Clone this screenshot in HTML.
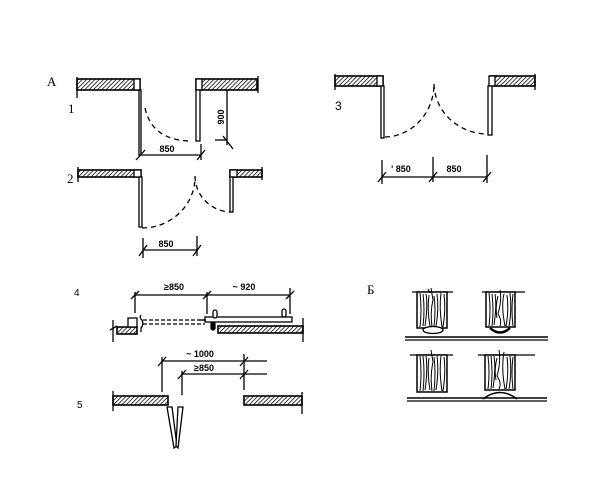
<!DOCTYPE html>
<html><head><meta charset="utf-8"><style>
html,body{margin:0;padding:0;background:#fff;}
svg{display:block;}
text{font-family:"Liberation Sans",sans-serif;fill:#000;}
.lb{font-family:"Liberation Serif",serif;}
</style></head><body>
<svg width="600" height="489" viewBox="0 0 600 489" xmlns="http://www.w3.org/2000/svg">
<defs>
<pattern id="h" patternUnits="userSpaceOnUse" width="3" height="3" patternTransform="rotate(45)">
<line x1="0" y1="0" x2="0" y2="3" stroke="#000" stroke-width="1.5"/>
</pattern>
</defs>
<g stroke="#000" stroke-width="1.3" fill="none">

<!-- ===== 1 ===== -->
<rect x="77" y="79" width="63" height="11" fill="url(#h)" stroke-width="1.6"/>
<rect x="134" y="79" width="6" height="11" fill="#fff"/>
<line x1="77" y1="77" x2="77" y2="98"/>
<rect x="139" y="90" width="2" height="65" fill="#fff"/>
<path d="M145 108 Q152 140 190 141" stroke-dasharray="5 4"/>
<rect x="196" y="79" width="61" height="11" fill="url(#h)" stroke-width="1.6"/>
<rect x="196" y="79" width="6" height="11" fill="#fff"/>
<line x1="258" y1="76" x2="258" y2="93"/>
<rect x="196" y="90" width="4" height="51" fill="#fff"/>
<line x1="227" y1="90" x2="227" y2="145"/>
<line x1="215" y1="140" x2="227" y2="140"/>
<line x1="223" y1="136" x2="233" y2="149"/>
<line x1="140" y1="155" x2="201" y2="155"/>
<line x1="201" y1="144" x2="201" y2="160"/>
<line x1="136" y1="160" x2="145" y2="150"/>
<line x1="197" y1="160" x2="205" y2="150"/>

<!-- ===== 2 ===== -->
<rect x="78" y="170" width="63" height="7" fill="url(#h)" stroke-width="1.6"/>
<rect x="134" y="170" width="7" height="7" fill="#fff"/>
<line x1="78" y1="167" x2="78" y2="182"/>
<rect x="139" y="177" width="3" height="50" fill="#fff"/>
<path d="M142 228 A53 51 0 0 0 195 177" stroke-dasharray="5 4"/>
<path d="M195 176 A37 36 0 0 0 230 212" stroke-dasharray="5 4"/>
<rect x="230" y="170" width="32" height="7" fill="url(#h)" stroke-width="1.6"/>
<rect x="230" y="170" width="7" height="7" fill="#fff"/>
<rect x="230" y="177" width="3" height="35" fill="#fff"/>
<line x1="262" y1="167" x2="262" y2="180"/>
<line x1="143" y1="250" x2="197" y2="250"/>
<line x1="143" y1="238" x2="143" y2="258"/>
<line x1="197" y1="236" x2="197" y2="256"/>
<line x1="139" y1="256" x2="147" y2="245"/>
<line x1="193" y1="256" x2="201" y2="245"/>

<!-- ===== 3 ===== -->
<rect x="335" y="76" width="48" height="10" fill="url(#h)" stroke-width="1.6"/>
<rect x="377" y="76" width="6" height="10" fill="#fff"/>
<line x1="335" y1="74" x2="335" y2="90"/>
<rect x="381" y="86" width="3" height="52" fill="#fff"/>
<path d="M385 137 A50 53 0 0 0 434 84" stroke-dasharray="5 4"/>
<path d="M434 84 A54 51 0 0 0 487 134" stroke-dasharray="5 4"/>
<rect x="490" y="76" width="45" height="10" fill="url(#h)" stroke-width="1.6"/>
<rect x="489" y="76" width="6" height="10" fill="#fff"/>
<rect x="488" y="86" width="4" height="49" fill="#fff"/>
<line x1="535" y1="74" x2="535" y2="90"/>
<line x1="382" y1="177" x2="487" y2="177"/>
<line x1="382" y1="160" x2="382" y2="184"/>
<line x1="433" y1="157" x2="433" y2="182"/>
<line x1="487" y1="155" x2="487" y2="183"/>
<line x1="378" y1="182" x2="386" y2="172"/>
<line x1="429" y1="182" x2="437" y2="172"/>
<line x1="483" y1="182" x2="491" y2="172"/>

<!-- ===== 4 ===== -->
<line x1="135" y1="295" x2="290" y2="295"/>
<line x1="135" y1="292" x2="135" y2="313"/>
<line x1="207" y1="292" x2="207" y2="314"/>
<line x1="290" y1="288" x2="290" y2="314"/>
<line x1="131" y1="299" x2="139" y2="291"/>
<line x1="203" y1="299" x2="211" y2="291"/>
<line x1="286" y1="299" x2="294" y2="291"/>
<rect x="117" y="327" width="20" height="7" fill="url(#h)" stroke-width="1.6"/>
<line x1="113" y1="320" x2="113" y2="342"/>
<line x1="110" y1="330" x2="117" y2="326"/>
<rect x="128" y="318" width="9" height="9" fill="#fff"/>
<path d="M141 315 Q139 318 142 320 Q144 325 141 328 L141 332"/>
<line x1="143" y1="320" x2="205" y2="320" stroke-dasharray="4 2"/>
<line x1="143" y1="324" x2="205" y2="324" stroke-dasharray="4 2"/>
<rect x="218" y="326" width="85" height="7" fill="url(#h)" stroke-width="1.6"/>
<rect x="205" y="317" width="87" height="5" fill="#fff"/>
<line x1="303" y1="318" x2="303" y2="342"/>
<rect x="213" y="310" width="4" height="8" rx="2" fill="#fff"/>
<rect x="282" y="309" width="4" height="8" rx="2" fill="#fff"/>
<rect x="211" y="322" width="4" height="8" rx="2" fill="#000"/>
<line x1="199" y1="320" x2="206" y2="320"/>

<!-- ===== 5 ===== -->
<line x1="162" y1="361" x2="267" y2="361"/>
<line x1="182" y1="374" x2="267" y2="374"/>
<line x1="162" y1="357" x2="162" y2="392"/>
<line x1="182" y1="371" x2="182" y2="395"/>
<line x1="244" y1="354" x2="244" y2="390"/>
<line x1="158" y1="366" x2="166" y2="357"/>
<line x1="178" y1="379" x2="186" y2="370"/>
<line x1="240" y1="366" x2="248" y2="357"/>
<line x1="240" y1="379" x2="248" y2="370"/>
<rect x="113" y="396" width="55" height="9" fill="url(#h)" stroke-width="1.6"/>
<line x1="113" y1="391" x2="113" y2="411"/>
<rect x="244" y="396" width="58" height="9" fill="url(#h)" stroke-width="1.6"/>
<line x1="302" y1="392" x2="302" y2="414"/>
<polygon points="167,407 172,407 177,446 174,448" fill="#fff"/>
<polygon points="178,407 183,407 178,448 176,446" fill="#fff"/>

<!-- ===== Б ===== -->
<line x1="412" y1="292" x2="453" y2="292"/>
<line x1="482" y1="292" x2="525" y2="292"/>
<rect x="417" y="292" width="30" height="36" fill="#fff" stroke-width="1.5"/>
<rect x="486" y="292" width="29" height="35" fill="#fff" stroke-width="1.5"/>
<g stroke-width="1">
<path d="M420 293 Q422 310 420 327 M423 294 Q425 310 423 326 M426 294 Q428 305 425 326 M429 295 Q427 310 430 326 M431 288 L433 300 Q430 312 432 327 M434 296 Q436 310 434 326 M437 294 Q439 310 436 326 M441 293 Q439 308 442 327 M444 294 Q446 310 443 327 M428 289 L430 293"/>
<path d="M489 293 Q491 310 489 326 M492 294 Q494 310 492 326 M495 294 Q497 305 494 325 M498 296 Q495 308 497 318 M500 290 Q502 300 498 314 Q502 320 500 326 M504 294 Q501 306 505 326 M507 295 Q509 310 506 326 M510 293 Q512 310 509 326 M513 294 Q511 310 513 326"/>
</g>
<ellipse cx="433" cy="330" rx="10" ry="3.5" fill="#fff"/>
<path d="M490 328 Q500 337 510 328" stroke-width="2.5"/>
<line x1="405" y1="337" x2="548" y2="337" stroke-width="1.5"/>
<line x1="405" y1="340" x2="548" y2="340"/>

<line x1="410" y1="355" x2="453" y2="355"/>
<line x1="478" y1="355" x2="535" y2="355"/>
<rect x="417" y="355" width="30" height="37" fill="#fff" stroke-width="1.5"/>
<rect x="485" y="355" width="30" height="35" fill="#fff" stroke-width="1.5"/>
<g stroke-width="1">
<path d="M420 356 Q422 372 420 391 M423 356 Q425 372 423 391 M426 356 Q428 370 425 390 M429 358 Q427 372 430 390 M431 350 L433 362 Q430 376 432 391 M434 357 Q436 372 434 391 M437 356 Q439 372 436 390 M441 356 Q439 372 442 391 M444 357 Q446 372 443 391"/>
<path d="M488 356 Q490 372 488 389 M491 356 Q493 372 491 389 M494 356 Q496 368 493 388 M497 358 Q494 370 496 380 M499 350 Q501 362 497 376 Q502 383 499 389 M504 352 Q501 368 505 389 M507 357 Q509 372 506 389 M510 356 Q512 372 509 389 M513 357 Q511 372 513 389"/>
</g>
<path d="M483 399 Q500 386 517 399" fill="#fff" stroke-width="1.5"/>
<line x1="407" y1="398" x2="547" y2="398" stroke-width="1.5"/>
<line x1="407" y1="401" x2="547" y2="401"/>
</g>

<!-- labels -->
<text class="lb" x="47" y="86" font-size="13">A</text>
<text class="lb" x="68" y="113" font-size="13">1</text>
<text class="lb" x="67" y="183" font-size="13">2</text>
<text x="335" y="110" font-size="12">3</text>
<text x="74" y="296" font-size="10">4</text>
<text x="77" y="408" font-size="10">5</text>
<text class="lb" x="367" y="294" font-size="13">Б</text>

<text x="167" y="152" font-size="9" font-weight="bold" text-anchor="middle">850</text>
<text x="0" y="0" font-size="9" font-weight="bold" text-anchor="middle" transform="translate(224 117) rotate(-90)">900</text>
<text x="166" y="247" font-size="9" font-weight="bold" text-anchor="middle">850</text>
<text x="401" y="172" font-size="9" font-weight="bold" text-anchor="middle">' 850</text>
<text x="454" y="172" font-size="9" font-weight="bold" text-anchor="middle">850</text>
<text x="174" y="290" font-size="9" font-weight="bold" text-anchor="middle">≥850</text>
<text x="244" y="290" font-size="9" font-weight="bold" text-anchor="middle">~ 920</text>
<text x="200" y="357" font-size="9" font-weight="bold" text-anchor="middle">~ 1000</text>
<text x="204" y="371" font-size="9" font-weight="bold" text-anchor="middle">≥850</text>
</svg>
</body></html>
